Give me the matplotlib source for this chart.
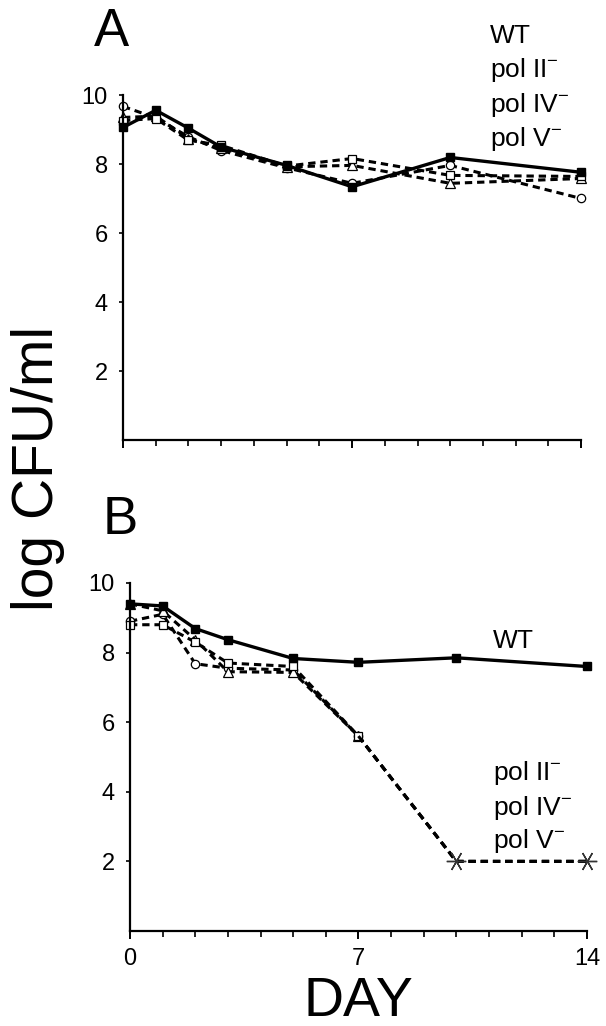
import matplotlib.pyplot as plt
from matplotlib.ticker import MultipleLocator

plt.rcParams['font.family'] = ['Liberation Sans', 'DejaVu Sans']
plt.rcParams['mathtext.fontset'] = 'custom'
plt.rcParams['mathtext.rm'] = 'Liberation Sans'

days = [0, 1, 2, 3, 5, 7, 10, 14]

# panel A: stationary phase survival
a_wt = [9.07, 9.57, 9.05, 8.5, 7.97, 7.35, 8.2, 7.77]
a_pol2 = [9.27, 9.33, 8.7, 8.55, 7.95, 8.17, 7.68, 7.65]
a_pol4 = [9.36, 9.4, 8.75, 8.47, 7.93, 7.97, 7.45, 7.59]
a_pol5 = [9.68, 9.35, 8.8, 8.4, 7.9, 7.45, 7.97, 7.01]

# panel B
b_wt = [9.4, 9.34, 8.69, 8.37, 7.83, 7.72, 7.85, 7.6]
b_pol2 = [8.8, 8.8, 8.3, 7.7, 7.6, 5.6, 2.0, 2.0]
b_pol4 = [9.4, 9.2, 8.37, 7.45, 7.43, 5.6, 2.0, 2.0]
b_pol5 = [8.9, 9.1, 7.68, 7.55, 7.5, 5.6, 2.0, 2.0]

labels = ["WT", r"pol II$^{-}$", r"pol IV$^{-}$", r"pol V$^{-}$"]

fig = plt.figure(figsize=(6.06, 10.26), dpi=100)
ax_a = fig.add_axes([0.203, 0.571, 0.756, 0.336])
ax_b = fig.add_axes([0.2145, 0.0926, 0.754, 0.3392])

dash_style = dict(color="black", linewidth=2.2, linestyle=(0, (2.4, 1.6)), clip_on=False)
solid_style = dict(color="black", linewidth=2.4, clip_on=False)
open_marker = dict(markerfacecolor="white", markeredgecolor="black", markeredgewidth=0.9)


def style_axis(ax, show_xlabels):
    ax.set_xlim(0, 14)
    ax.set_ylim(0, 10)
    for side in ["top", "right"]:
        ax.spines[side].set_visible(False)
    for side in ["left", "bottom"]:
        ax.spines[side].set_linewidth(1.6)
    ax.set_yticks([2, 4, 6, 8, 10])
    ax.set_yticklabels(["2", "4", "6", "8", "10"])
    ax.set_xticks([0, 7, 14])
    ax.xaxis.set_minor_locator(MultipleLocator(1))
    ax.tick_params(axis="y", direction="out", length=3, width=1.2, pad=8, labelsize=17)
    ax.tick_params(axis="x", which="major", direction="out", length=6, width=1.4, pad=6, labelsize=17)
    ax.tick_params(axis="x", which="minor", direction="out", length=4, width=1.2)
    if not show_xlabels:
        ax.set_xticklabels([])


# panel A
ax_a.plot(days, a_pol5, marker="o", markersize=6, **open_marker, **dash_style)
ax_a.plot(days, a_pol4, marker="^", markersize=6.5, **open_marker, **dash_style)
ax_a.plot(days, a_pol2, marker="s", markersize=6, **open_marker, **dash_style)
ax_a.plot(days, a_wt, marker="s", markersize=6, markerfacecolor="black", **solid_style)
style_axis(ax_a, False)

for text, y in zip(labels, [11.51, 10.52, 9.51, 8.52]):
    ax_a.text(11.2, y, text, fontsize=19, va="baseline", ha="left", clip_on=False)

# panel B: mutants share the same tail from day 7, so restart dashes there
for vals, mk, ms in [(b_pol5, "o", 6), (b_pol4, "^", 6.5), (b_pol2, "s", 6)]:
    ax_b.plot(days[:6], vals[:6], marker=mk, markersize=ms, **open_marker, **dash_style)
    ax_b.plot(days[5:], vals[5:], **dash_style)
ax_b.plot(days[6:], b_pol2[6:], linestyle="none", marker=(6, 2, 90), markersize=14,
          markeredgecolor="#333333", markeredgewidth=1.0, clip_on=False, zorder=4)
ax_b.plot(days, b_wt, marker="s", markersize=6, markerfacecolor="black", **solid_style)
style_axis(ax_b, True)

ax_b.text(11.12, 8.14, labels[0], fontsize=19, va="baseline", ha="left")
for text, y in zip(labels[1:], [4.35, 3.34, 2.39]):
    ax_b.text(11.12, y, text, fontsize=19, va="baseline", ha="left")

# panel letters and shared axis titles
fig.text(111 / 606, 1 - 32 / 1026, "A", fontsize=38, ha="center", va="center")
fig.text(120 / 606, 1 - 520 / 1026, "B", fontsize=38, ha="center", va="center")
fig.text(38 / 606, 1 - 468 / 1026, "log CFU/ml", fontsize=41, rotation=90,
         ha="center", va="center")
fig.text(358 / 606, 1 - 1002 / 1026, "DAY", fontsize=40, ha="center", va="center")

fig.savefig("out.png", dpi=100)
